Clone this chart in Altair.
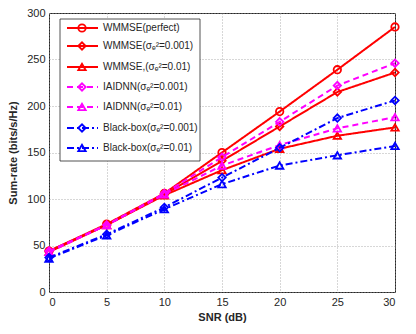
import altair as alt
import pandas as pd

snr = [0, 5, 10, 15, 20, 25, 30]
wmmse_perfect = [44, 73, 106, 150, 194, 239, 285]
wmmse_001 = [44, 72, 105, 141, 178, 215, 236]
wmmse_01 = [43, 72, 104, 131, 154, 168, 177]
iaidnn_001 = [44, 72, 106, 145, 183, 222, 246]
iaidnn_01 = [43, 72, 105, 136, 158, 176, 188]
bb_001 = [37, 62, 91, 123, 155, 187, 206]
bb_01 = [36, 61, 89, 116, 136, 147, 157]

labels = [
    "WMMSE(perfect)",
    "WMMSE(σₑ²=0.001)",
    "WMMSE,(σₑ²=0.01)",
    "IAIDNN(σₑ²=0.001)",
    "IAIDNN(σₑ²=0.01)",
    "Black-box(σₑ²=0.001)",
    "Black-box(σₑ²=0.01)",
]
values = [wmmse_perfect, wmmse_001, wmmse_01, iaidnn_001, iaidnn_01, bb_001, bb_01]
colors = ["#FF0000", "#FF0000", "#FF0000", "#FF00FF", "#FF00FF", "#0000FF", "#0000FF"]
SOLID = [1, 0]
DASH = [6, 4]
DASHDOT = [7, 3, 2, 3]
dashes = [SOLID, SOLID, SOLID, DASH, DASH, DASHDOT, DASHDOT]
shapes = ["circle", "diamond", "triangle-up", "diamond", "triangle-up", "diamond", "triangle-up"]

W, H = 346, 279
FONT = "Liberation Sans"
TXT = "#262626"

x_enc = alt.X("snr:Q", scale=alt.Scale(domain=[0, 30], nice=False),
              axis=alt.Axis(values=snr, title="SNR (dB)"))
y_enc = alt.Y("rate:Q", scale=alt.Scale(domain=[0, 300], nice=False),
              axis=alt.Axis(values=[0, 50, 100, 150, 200, 250, 300], title="Sum-rate (bits/s/Hz)"))

layers = []
for lab, vals, col, dsh, shp in zip(labels, values, colors, dashes, shapes):
    df = pd.DataFrame({"snr": snr, "rate": vals, "series": lab})
    base = alt.Chart(df).encode(x=x_enc, y=y_enc)
    layers.append(base.mark_line(color=col, strokeWidth=2, strokeDash=dsh))
    layers.append(base.mark_point(color=col, shape=shp, size=55, strokeWidth=1.8, filled=False, opacity=1))

# legend (layout coordinates inside plot area)
box_x0, box_x1, box_y0, box_y1 = 11, 151, 6, 148
row_y = [15, 33, 54, 74, 94, 115, 135]
layers.append(
    alt.Chart(alt.Data(values=[{"k": 1}])).mark_rect(fill="white", stroke="#262626", strokeWidth=0.8).encode(
        x=alt.value(box_x0), x2=alt.value(box_x1), y=alt.value(box_y0), y2=alt.value(box_y1)
    )
)
for i, (lab, col, dsh, shp) in enumerate(zip(labels, colors, dashes, shapes)):
    d = alt.Data(values=[{"label": lab}])
    ry = row_y[i]
    layers.append(alt.Chart(d).mark_rule(color=col, strokeWidth=2, strokeDash=dsh).encode(
        x=alt.value(18), x2=alt.value(49), y=alt.value(ry)))
    layers.append(alt.Chart(d).mark_point(color=col, shape=shp, size=55, strokeWidth=1.8, filled=False, opacity=1).encode(
        x=alt.value(33), y=alt.value(ry)))
    layers.append(alt.Chart(d).mark_text(align="left", baseline="middle", font=FONT, fontSize=10, color=TXT).encode(
        x=alt.value(54), y=alt.value(ry), text="label:N"))

chart = alt.layer(*layers).properties(
    width=W, height=H,
    autosize=alt.AutoSizeParams(type="none"),
    padding={"left": 41, "top": 5, "right": 13, "bottom": 34},
).configure_view(
    stroke="#262626", strokeWidth=1
).configure_axis(
    grid=True, gridColor="#9a9a9a", gridDash=[1, 2], gridWidth=0.8,
    domain=False, ticks=False, labelPadding=4,
    labelFont=FONT, labelFontSize=11, labelColor=TXT,
    titleFont=FONT, titleFontSize=11, titleFontWeight="bold", titleColor=TXT,
).configure_axisY(
    titlePadding=8,
).configure_axisX(
    titlePadding=4,
)

chart.save("out.html", embed_options={"renderer": "svg", "actions": False})
